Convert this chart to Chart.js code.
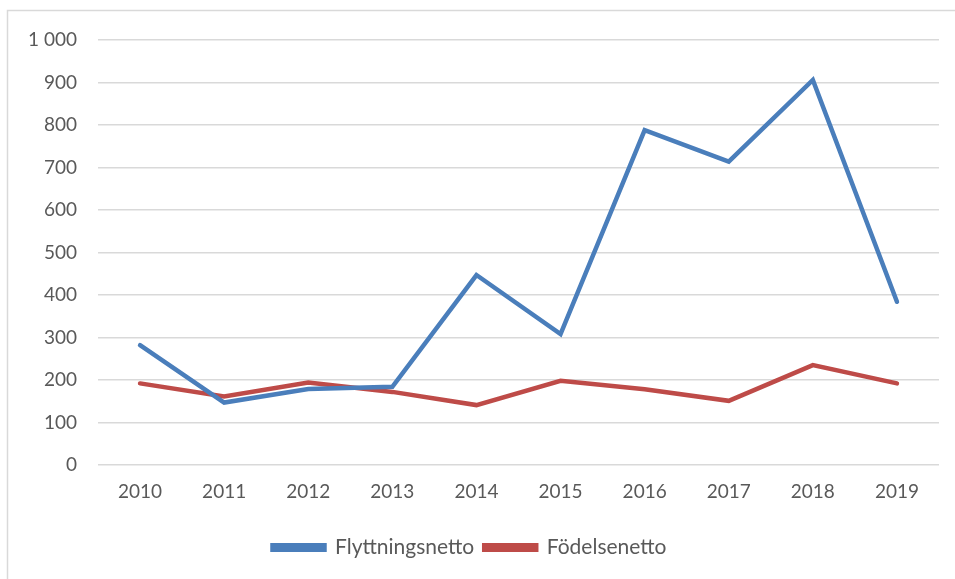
<!DOCTYPE html>
<html>
<head>
<meta charset="utf-8">
<script src="https://cdn.jsdelivr.net/npm/chart.js@4"></script>
<style>
  html, body { margin: 0; padding: 0; background: #fff; }
  #wrap { width: 955px; height: 579px; position: relative; }
</style>
</head>
<body>
<div id="wrap"><canvas id="c" width="955" height="579"></canvas></div>
<script>
const years = ['2010','2011','2012','2013','2014','2015','2016','2017','2018','2019'];
const flyttningsnetto = [282, 147, 179, 184, 447, 308, 788, 714, 906, 384];
const fodelsenetto = [192, 161, 194, 172, 141, 198, 178, 151, 235, 192];
const yTicks = [0, 100, 200, 300, 400, 500, 600, 700, 800, 900, 1000];

const frame = {
  id: 'frame',
  beforeDraw(chart) {
    const ctx = chart.ctx;
    ctx.save();
    ctx.fillStyle = '#fff';
    ctx.fillRect(0, 0, chart.width, chart.height);
    ctx.strokeStyle = '#D9D9D9';
    ctx.lineWidth = 1.5;
    ctx.beginPath();
    ctx.moveTo(7.5, chart.height + 5);
    ctx.lineTo(7.5, 10.5);
    ctx.lineTo(chart.width + 5, 10.5);
    ctx.stroke();
    ctx.restore();
  }
};

const textColor = '#595959';
const fontFamily = 'Lato, "Liberation Sans", sans-serif';

new Chart(document.getElementById('c'), {
  type: 'line',
  data: {
    labels: years,
    datasets: [
      { label: 'Flyttningsnetto', data: flyttningsnetto, borderColor: '#4A7EBB', backgroundColor: '#4A7EBB', borderWidth: 4.5, pointRadius: 0, tension: 0, borderCapStyle: 'round', borderJoinStyle: 'miter' },
      { label: 'Födelsenetto', data: fodelsenetto, borderColor: '#BE4B48', backgroundColor: '#BE4B48', borderWidth: 4.5, pointRadius: 0, tension: 0, borderCapStyle: 'round', borderJoinStyle: 'miter' }
    ]
  },
  options: {
    responsive: false,
    animation: false,
    devicePixelRatio: 1,
    layout: { padding: { left: 0, right: 16, top: 40, bottom: 11 } },
    plugins: {
      legend: {
        position: 'bottom',
        labels: {
          boxWidth: 52, boxHeight: 4.5, padding: 10,
          color: textColor,
          font: { family: fontFamily, size: 21 }
        }
      },
      tooltip: { enabled: false }
    },
    scales: {
      x: {
        offset: true,
        grid: { display: false, drawTicks: false },
        border: { display: false },
        ticks: { color: textColor, font: { family: fontFamily, size: 19 }, padding: 15, maxRotation: 0 },
        afterFit(scale) { scale.height = 62; }
      },
      y: {
        min: 0, max: 1000,
        afterBuildTicks(scale) { scale.ticks = yTicks.map(v => ({ value: v })); },
        grid: { color: '#D9D9D9', lineWidth: 1.5, drawTicks: false },
        border: { display: false },
        ticks: {
          color: textColor, font: { family: fontFamily, size: 19 }, padding: 21,
          callback(v) { return String(v).replace(/\B(?=(\d{3})+(?!\d))/g, ' '); }
        },
        afterFit(scale) { scale.width = 98; }
      }
    }
  },
  plugins: [frame]
});
</script>
</body>
</html>
